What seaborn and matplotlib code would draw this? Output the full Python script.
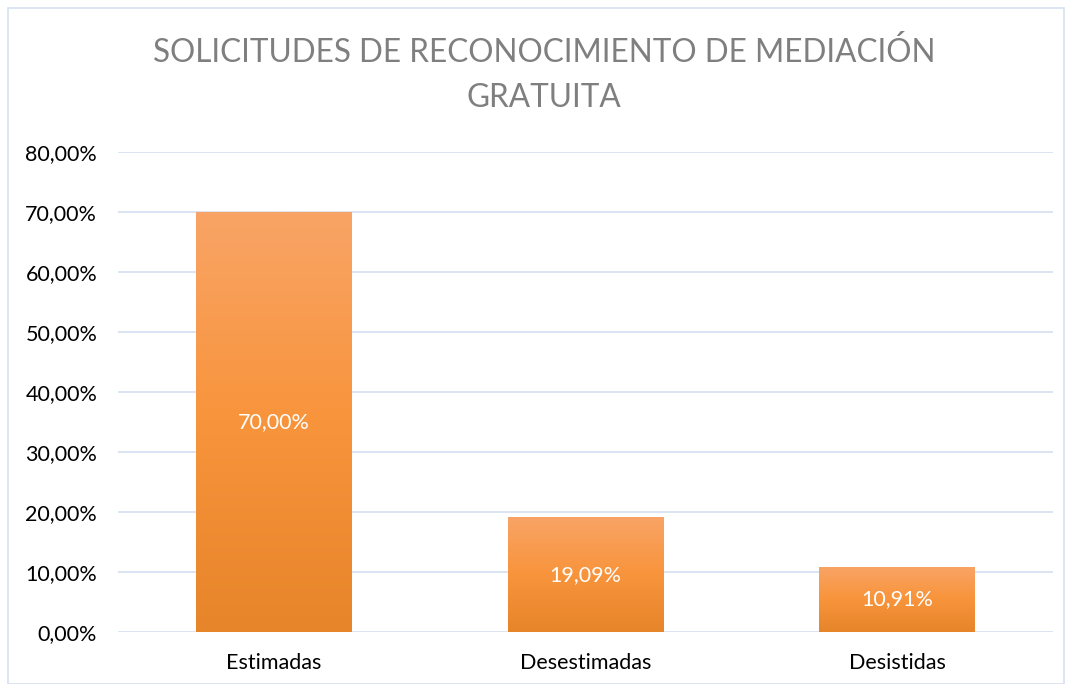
import numpy as np
import pandas as pd
import matplotlib
matplotlib.use("Agg")
import matplotlib.pyplot as plt
import seaborn as sns
from matplotlib.colors import LinearSegmentedColormap
from matplotlib.patches import Rectangle
from matplotlib.ticker import FuncFormatter, MultipleLocator

categories = ["Estimadas", "Desestimadas", "Desistidas"]
values = [0.70, 0.1909, 0.1091]
title_lines = ["SOLICITUDES DE RECONOCIMIENTO DE MEDIACIÓN", "GRATUITA"]

sns.set_theme(style="white")
plt.rcParams['font.family'] = ['Lato', 'DejaVu Sans']

df = pd.DataFrame({"cat": categories, "val": values})

fig = plt.figure(figsize=(10.72, 6.84), dpi=100)
fig.patches.append(Rectangle((8/1072, 0), 1 - 16/1072, 1 - 8/684, transform=fig.transFigure,
                             fill=False, edgecolor="#D6E0F0", linewidth=1.2))
ax = fig.add_axes([118/1072, 52/684, (1053-118)/1072, (632-152)/684])

sns.barplot(data=df, x="cat", y="val", ax=ax, width=0.5, color="#F79646", saturation=1)

ax.set_ylim(0, 0.8)
ax.set_xlim(-0.5, 2.5)
ax.yaxis.set_major_locator(MultipleLocator(0.1))
ax.yaxis.set_major_formatter(FuncFormatter(lambda v, p: f"{v*100:.2f}%".replace(".", ",")))
ax.grid(axis="y", color="#D9E2F1", linewidth=1.3)
ax.set_axisbelow(True)
for s in ax.spines.values():
    s.set_visible(False)
ax.set_xlabel("")
ax.set_ylabel("")
ax.tick_params(axis="both", length=0, labelsize=15.5, colors="#000000")
ax.tick_params(axis="y", pad=15)
ax.tick_params(axis="x", pad=15)

cmap = LinearSegmentedColormap.from_list("g", ["#E7852B", "#F8943B", "#F9A466"])
grad = np.linspace(0, 1, 256).reshape(-1, 1)
for patch, v in zip(ax.patches, values):
    x0, y0 = patch.get_x(), patch.get_y()
    w, h = patch.get_width(), patch.get_height()
    patch.set_facecolor("none")
    patch.set_edgecolor("none")
    im = ax.imshow(grad, cmap=cmap, origin="lower", aspect="auto",
                   extent=[x0, x0 + w, y0, y0 + h], zorder=2)
    im.set_clip_path(patch)
    ax.text(x0 + w / 2, h / 2, f"{v*100:.2f}%".replace(".", ","), ha="center", va="center",
            color="white", fontsize=15.5, zorder=3)
ax.set_xlim(-0.5, 2.5)
ax.set_ylim(0, 0.8)

fig.text(544/1072, 1 - 52/684, title_lines[0], ha="center", va="center", fontsize=22.7, color="#7F7F7F")
fig.text(544/1072, 1 - 98/684, title_lines[1], ha="center", va="center", fontsize=22.7, color="#7F7F7F")

fig.savefig("out.png", dpi=100)
